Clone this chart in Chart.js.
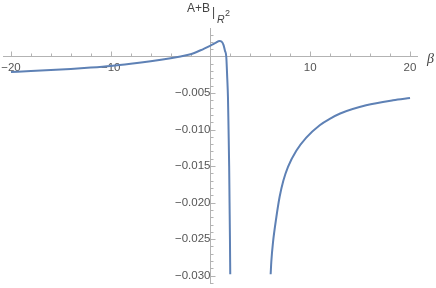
<!DOCTYPE html>
<html lang="en">
<head>
    <meta charset="UTF-8">
    <title>A+B at R^2</title>
    <style>
        body {
            margin: 0;
            background-color: #fff;
        }
        .chart-container {
            position: relative;
            width: 436px;
            height: 288px;
        }
    </style>
    <script src="https://cdn.jsdelivr.net/npm/chart.js"></script>
</head>
<body>
    <div class="chart-container">
        <canvas id="plotChart"></canvas>
    </div>
    <script>
        // values (beta, A+B at R^2)
        const betaLeft = [-20, -18, -16, -14, -12, -10, -8, -6, -4, -3, -2, -1, 0, 0.5, 0.9, 1.1, 1.3, 1.45, 1.58, 1.68, 1.75, 1.81, 1.87, 1.91, 1.95, 1.98];
        const valueLeft = [-0.00213, -0.002, -0.00186, -0.0017, -0.00152, -0.0013, -0.001, -0.00065, -0.00024, 0, 0.0003, 0.00085, 0.0015, 0.00185, 0.00212, 0.00205, 0.0016, 0.0008, 0, -0.003, -0.0055, -0.01, -0.015, -0.02, -0.025, -0.0298];
        const betaRight = [6.03, 6.1, 6.26, 6.6, 6.93, 7.3, 7.77, 8.6, 9.6, 10.95, 12, 13, 15.6, 18.3, 20];
        const valueRight = [-0.0298, -0.028, -0.0255, -0.022, -0.0192, -0.017, -0.0151, -0.0129, -0.0111, -0.0094, -0.0085, -0.0078, -0.00668, -0.00599, -0.00568];

        const xTickStep = 10;
        const yTickStep = 0.005;

        const curveColor = '#5e81b5';
        const axisColor = '#b3b3b3';
        const labelColor = '#555';
        const fontFamily = '"Liberation Sans", Arial, sans-serif';

        function toPoints(xs, ys) {
            return xs.map((x, i) => ({x: x, y: ys[i]}));
        }

        // keep the plot area fixed, labels may overflow like in the original
        function noLabelPadding(scale) {
            scale.paddingLeft = 0;
            scale.paddingRight = 0;
            scale.paddingTop = 0;
            scale.paddingBottom = 0;
        }

        const axisDecor = {
            id: 'axisDecor',
            beforeDatasetsDraw(chart) {
                const ctx = chart.ctx;
                const xs = chart.scales.x, ys = chart.scales.y;
                const x0 = Math.round(xs.getPixelForValue(0)) + 0.5;
                const y0 = Math.round(ys.getPixelForValue(0)) + 0.5;
                ctx.save();
                ctx.strokeStyle = axisColor;
                ctx.lineWidth = 1;
                ctx.beginPath();
                // x ticks, every 2, pointing up
                for (let b = -20; b <= 20; b += 2) {
                    if (b === 0) continue;
                    const px = Math.round(xs.getPixelForValue(b)) + 0.5;
                    const len = (b % 10 === 0) ? 5 : 3;
                    ctx.moveTo(px, y0);
                    ctx.lineTo(px, y0 - len);
                }
                // y ticks, every 0.001, pointing right
                for (let k = -31; k <= 3; k++) {
                    if (k === 0) continue;
                    const py = Math.round(ys.getPixelForValue(k / 1000)) + 0.5;
                    const len = (k % 5 === 0) ? 5 : 3;
                    ctx.moveTo(x0, py);
                    ctx.lineTo(x0 + len, py);
                }
                ctx.stroke();
                ctx.restore();
            },
            afterDraw(chart) {
                const ctx = chart.ctx;
                ctx.save();
                ctx.fillStyle = '#444';
                ctx.textBaseline = 'alphabetic';
                ctx.font = '12px ' + fontFamily;
                ctx.fillText('A+B', 187, 12);
                ctx.font = '12px ' + fontFamily;
                ctx.fillText('|', 212, 16);
                ctx.font = 'italic 10.5px ' + fontFamily;
                ctx.fillText('R', 217, 23);
                ctx.font = '9px ' + fontFamily;
                ctx.fillText('2', 225, 16);
                ctx.font = 'italic 14px "Liberation Serif", serif';
                ctx.fillText('\u03b2', 427, 63);
                ctx.restore();
            }
        };

        function minusLabel(v, digits) {
            if (Math.abs(v) < 1e-12) return '';
            const s = Math.abs(v).toFixed(digits);
            return v < 0 ? '\u2212' + s : s;
        }

        new Chart(document.getElementById('plotChart'), {
            type: 'scatter',
            data: {
                datasets: [{
                    data: toPoints(betaLeft, valueLeft),
                    showLine: true,
                    borderColor: curveColor,
                    borderWidth: 2,
                    pointRadius: 0,
                    cubicInterpolationMode: 'monotone'
                }, {
                    data: toPoints(betaRight, valueRight),
                    showLine: true,
                    borderColor: curveColor,
                    borderWidth: 2,
                    pointRadius: 0,
                    cubicInterpolationMode: 'monotone'
                }]
            },
            options: {
                responsive: true,
                maintainAspectRatio: false,
                animation: false,
                layout: {
                    padding: {left: 3, right: 19, top: 28, bottom: 5}
                },
                plugins: {
                    legend: {display: false},
                    tooltip: {enabled: false}
                },
                scales: {
                    x: {
                        type: 'linear',
                        min: -20.8,
                        max: 20.7,
                        position: {y: 0},
                        afterFit: noLabelPadding,
                        grid: {display: false, drawTicks: false},
                        border: {color: axisColor, width: 1},
                        ticks: {
                            stepSize: xTickStep,
                            includeBounds: false,
                            maxRotation: 0,
                            autoSkip: false,
                            padding: 4,
                            color: labelColor,
                            font: {family: fontFamily, size: 11.5},
                            callback: v => minusLabel(v, 0)
                        }
                    },
                    y: {
                        type: 'linear',
                        min: -0.031,
                        max: 0.0039,
                        position: {x: 0},
                        afterFit: noLabelPadding,
                        grid: {display: false, drawTicks: false},
                        border: {color: axisColor, width: 1},
                        ticks: {
                            stepSize: yTickStep,
                            includeBounds: false,
                            autoSkip: false,
                            padding: 9,
                            color: labelColor,
                            font: {family: fontFamily, size: 11.5},
                            callback: v => minusLabel(v, 3)
                        }
                    }
                }
            },
            plugins: [axisDecor]
        });
    </script>
</body>
</html>
